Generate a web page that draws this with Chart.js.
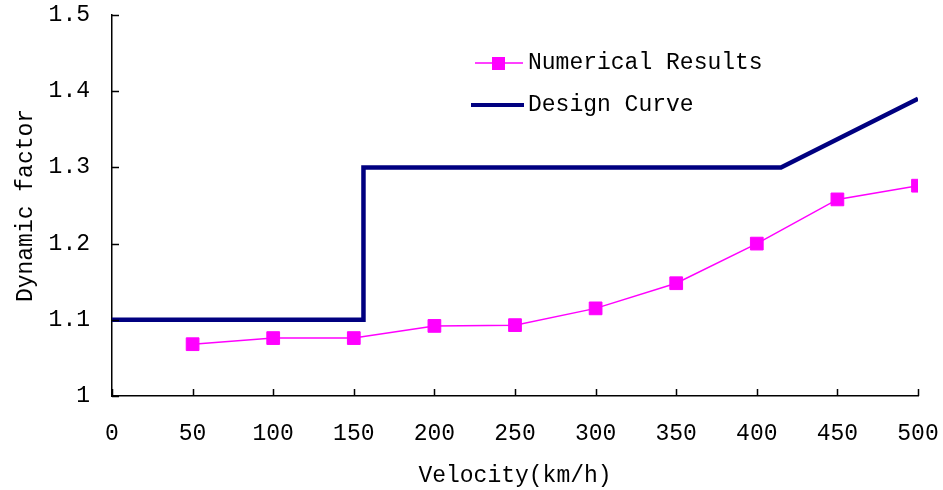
<!DOCTYPE html>
<html>
<head>
<meta charset="utf-8">
<script src="https://cdn.jsdelivr.net/npm/chart.js@4/dist/chart.umd.min.js"></script>
<style>
  html, body { margin: 0; padding: 0; background: #fff; }
  #wrap { position: relative; width: 943px; height: 490px; }
</style>
</head>
<body>
<div id="wrap"><canvas id="factorChart" width="943" height="490"></canvas></div>
<script>
// Datos
const velocities = [50, 100, 150, 200, 250, 300, 350, 400, 450, 500];
const numericalResults = [1.068, 1.076, 1.076, 1.092, 1.093, 1.115, 1.148, 1.200, 1.258, 1.276];
const designVelocity = [0, 156, 156, 415, 500];
const designFactor = [1.1, 1.1, 1.3, 1.3, 1.39];
const xRange = [0, 500];
const yRange = [1, 1.5];
const seriesNames = ['Numerical Results', 'Design Curve'];

const FONT = '"Liberation Mono", "DejaVu Sans Mono", monospace';
const MAGENTA = '#ff00ff';
const NAVY = '#000080';

// Marcas de los ejes hacia dentro + leyenda dentro del área
const innerTicks = {
    id: 'innerTicks',
    afterDraw(chart) {
        const ctx = chart.ctx;
        const x = chart.scales.x, y = chart.scales.y;
        ctx.save();
        ctx.strokeStyle = '#000';
        ctx.lineWidth = 1.5;
        ctx.beginPath();
        x.ticks.forEach(t => {
            const px = Math.round(x.getPixelForValue(t.value)) + 0.5;
            ctx.moveTo(px, y.bottom);
            ctx.lineTo(px, y.bottom - 7);
        });
        y.ticks.forEach(t => {
            const py = Math.round(y.getPixelForValue(t.value)) + 0.5;
            ctx.moveTo(x.left, py);
            ctx.lineTo(x.left + 7, py);
        });
        ctx.stroke();

        // leyenda
        ctx.font = '23px ' + FONT;
        ctx.textBaseline = 'middle';
        ctx.strokeStyle = MAGENTA;
        ctx.lineWidth = 1.5;
        ctx.beginPath();
        ctx.moveTo(475, 63); ctx.lineTo(523, 63);
        ctx.stroke();
        ctx.fillStyle = MAGENTA;
        ctx.fillRect(492, 57, 13, 13);
        ctx.strokeStyle = NAVY;
        ctx.lineWidth = 4;
        ctx.beginPath();
        ctx.moveTo(471, 105); ctx.lineTo(524, 105);
        ctx.stroke();
        ctx.fillStyle = '#000';
        ctx.fillText(seriesNames[0], 528, 63);
        ctx.fillText(seriesNames[1], 528, 105);
        ctx.restore();
    }
};

const ctx = document.getElementById('factorChart').getContext('2d');
new Chart(ctx, {
    type: 'line',
    data: {
        datasets: [{
            label: seriesNames[0],
            data: velocities.map((v, i) => ({ x: v, y: numericalResults[i] })),
            borderColor: MAGENTA,
            backgroundColor: MAGENTA,
            borderWidth: 1.5,
            pointStyle: 'rect',
            pointRadius: 9,
            pointBorderWidth: 1,
            pointBorderColor: MAGENTA,
            pointBackgroundColor: MAGENTA,
            tension: 0,
            fill: false
        }, {
            label: seriesNames[1],
            data: designVelocity.map((v, i) => ({ x: v, y: designFactor[i] })),
            borderColor: NAVY,
            borderWidth: 4.5,
            pointRadius: 0,
            tension: 0,
            fill: false
        }]
    },
    options: {
        responsive: false,
        animation: false,
        devicePixelRatio: 1,
        layout: { padding: { top: 15, right: 25, left: 0, bottom: 0 } },
        scales: {
            x: {
                type: 'linear',
                min: xRange[0],
                max: xRange[1],
                grid: { display: false, drawTicks: false },
                border: { display: true, color: '#000', width: 1.5 },
                ticks: {
                    stepSize: 50,
                    color: '#000',
                    padding: 24,
                    font: { family: FONT, size: 23 }
                },
                title: {
                    display: true,
                    text: 'Velocity(km/h)',
                    color: '#000',
                    font: { family: FONT, size: 23 },
                    padding: { top: 0, bottom: 0 }
                },
                afterFit(scale) {
                    scale.height = 94;
                    scale.paddingLeft = 0;
                    scale.paddingRight = 0;
                }
            },
            y: {
                min: yRange[0],
                max: yRange[1],
                grid: { display: false, drawTicks: false },
                border: { display: true, color: '#000', width: 1.5 },
                ticks: {
                    stepSize: 0.1,
                    color: '#000',
                    padding: 22,
                    font: { family: FONT, size: 23 },
                    callback: value => String(Number(value.toFixed(1)))
                },
                title: {
                    display: true,
                    text: 'Dynamic factor',
                    color: '#000',
                    font: { family: FONT, size: 23 },
                    padding: { top: 12, bottom: 0 }
                },
                afterFit(scale) {
                    scale.width = 112;
                    scale.paddingTop = 0;
                    scale.paddingBottom = 0;
                }
            }
        },
        plugins: {
            legend: { display: false },
            tooltip: { enabled: false }
        }
    },
    plugins: [innerTicks]
});
</script>
</body>
</html>
